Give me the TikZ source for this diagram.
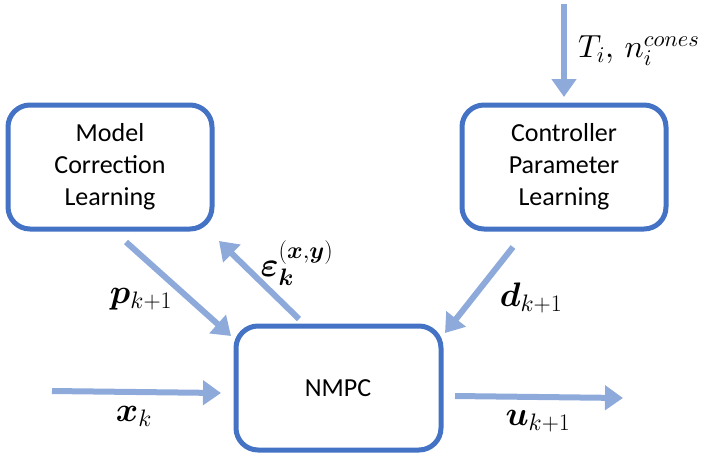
\RequirePackage{fix-cm}
\documentclass[tikz,border=0pt]{standalone}
\usepackage{amsmath,bm}
\usepackage{fontspec}
\setmainfont{Carlito}
\DeclareFontFamily{OML}{cmm}{\skewchar\font'177}
\DeclareFontShape{OML}{cmm}{m}{it}{<-> cmmi10}{}
\DeclareFontShape{OML}{cmm}{b}{it}{<-> cmmib10}{}
\DeclareFontFamily{OMS}{cmsy}{\skewchar\font'60}
\DeclareFontShape{OMS}{cmsy}{m}{n}{<-> cmsy10}{}
\DeclareFontShape{OMS}{cmsy}{b}{n}{<-> cmbsy10}{}
\usetikzlibrary{arrows.meta}
\definecolor{boxblue}{HTML}{4472C4}
\definecolor{arrblue}{HTML}{8EAADB}
\begin{document}
\begin{tikzpicture}[x=1pt,y=-1pt,
  blk/.style={draw=boxblue,line width=5pt,rounded corners=22pt,fill=white,align=center,
    font=\fontsize{26}{32}\selectfont},
  flow/.style={draw=arrblue,line width=6pt,-{Triangle[length=18pt,width=24pt]}},
  lab/.style={font=\fontsize{34}{38}\selectfont,inner sep=0pt},
  tlab/.style={font=\fontsize{32}{36}\selectfont,inner sep=0pt}]
\useasboundingbox (0,0) rectangle (701,459);
\draw[blk] (8,105) rectangle (212,229);
\node[blk,draw=none,fill=none] (mcl) at (110,167) {Model\\Correction\\Learning};
\draw[blk] (462,105) rectangle (666,229);
\node[blk,draw=none,fill=none] (cpl) at (564,167) {Controller\\Parameter\\Learning};
\draw[blk] (236,326) rectangle (441,450);
\node[blk,draw=none,fill=none] (nmpc) at (338,388) {NMPC};
\coordinate (tin) at (564,4);
\coordinate (tend) at (564,97);
\coordinate (ps) at (126,242);
\coordinate (pe) at (231,336);
\coordinate (es) at (299,319);
\coordinate (ee) at (219,241);
\coordinate (ds) at (513,247);
\coordinate (de) at (445,333);
\coordinate (xs) at (52,391);
\coordinate (xe) at (221,393);
\coordinate (us) at (455,396);
\coordinate (ue) at (623,398);
\draw[flow] (tin) -- (tend);
\draw[flow] (ps) -- (pe);
\draw[flow] (es) -- (ee);
\draw[flow] (ds) -- (de);
\draw[flow] (xs) -- (xe);
\draw[flow] (us) -- (ue);
\node[tlab,anchor=west] (tl) at (578,51) {$T_i,\, n_i^{cones}$};
\node[lab] (pl) at (141,299) {$\bm{p}_{k+1}$};
\node[lab] (el) at (297,263) {$\bm{\varepsilon}_{\bm{k}}^{(\bm{x},\bm{y})}$};
\node[lab] (dl) at (531,298) {$\bm{d}_{k+1}$};
\node[lab] (xl) at (134,416) {$\bm{x}_k$};
\node[lab] (ul) at (538,421) {$\bm{u}_{k+1}$};
\end{tikzpicture}
\end{document}
